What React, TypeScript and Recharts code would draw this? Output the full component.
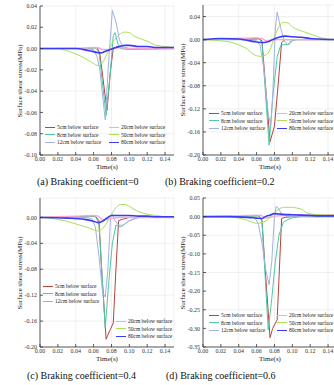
import { CartesianGrid, Line, LineChart, XAxis, YAxis } from 'recharts';

type Pt = [number, number];

const TIME_TICKS = [0, 0.02, 0.04, 0.06, 0.08, 0.1, 0.12, 0.14];
const DEPTHS = [
  '5cm below surface',
  '8cm below surface',
  '12cm below surface',
  '20cm below surface',
  '50cm below surface',
  '80cm below surface',
];
const CAPTIONS = [
  '(a) Braking coefficient=0',
  '(b) Braking coefficient=0.2',
  '(c) Braking coefficient=0.4',
  '(d) Braking coefficient=0.6',
];

const Y_TICKS_A = [-0.1, -0.08, -0.06, -0.04, -0.02, 0, 0.02, 0.04];
const Y_TICKS_B = [-0.2, -0.16, -0.12, -0.08, -0.04, 0, 0.04];
const Y_TICKS_C = [-0.2, -0.16, -0.12, -0.08, -0.04, 0];
const Y_TICKS_D = [-0.35, -0.3, -0.25, -0.2, -0.15, -0.1, -0.05, 0, 0.05];

// (a) braking coefficient 0
const a5: Pt[] = [[0, 0], [0.05, 0], [0.06, 0.001], [0.064, 0.001], [0.067, -0.005], [0.075, -0.058], [0.079, -0.02], [0.082, 0], [0.088, 0.002], [0.093, 0.001], [0.1, 0], [0.15, 0]];
const a8: Pt[] = [[0, 0], [0.05, 0], [0.062, 0.0005], [0.066, -0.003], [0.074, -0.063], [0.079, -0.02], [0.082, 0.012], [0.084, 0.015], [0.087, 0.005], [0.09, 0], [0.1, -0.001], [0.15, 0]];
const a12: Pt[] = [[0, 0], [0.05, 0], [0.06, -0.001], [0.064, -0.008], [0.067, -0.02], [0.073, -0.067], [0.077, -0.01], [0.081, 0.036], [0.085, 0.025], [0.089, 0.008], [0.094, 0], [0.1, 0], [0.15, 0]];
const a20: Pt[] = [[0, 0], [0.05, 0.0005], [0.06, 0.001], [0.065, 0.0008], [0.07, -0.001], [0.075, -0.001], [0.08, 0], [0.09, 0.001], [0.1, 0], [0.15, 0]];
const a50: Pt[] = [[0, 0], [0.02, 0], [0.03, -0.002], [0.04, -0.005], [0.05, -0.009], [0.06, -0.014], [0.065, -0.016], [0.07, -0.013], [0.075, -0.005], [0.08, 0.004], [0.085, 0.01], [0.09, 0.014], [0.095, 0.0155], [0.1, 0.015], [0.105, 0.012], [0.11, 0.01], [0.12, 0.007], [0.13, 0.003], [0.14, 0.002], [0.15, 0.001]];
const a80: Pt[] = [[0, 0], [0.04, 0], [0.055, -0.002], [0.068, -0.004], [0.075, -0.002], [0.085, 0.001], [0.095, 0.003], [0.1, 0.003], [0.11, 0.002], [0.12, 0.002], [0.13, 0.001], [0.15, 0.001]];

// (b) braking coefficient 0.2
const b5: Pt[] = [[0, 0], [0.05, 0.001], [0.062, 0.002], [0.066, -0.002], [0.069, -0.06], [0.075, -0.177], [0.08, -0.15], [0.084, -0.08], [0.088, -0.005], [0.092, 0], [0.15, 0]];
const b8: Pt[] = [[0, 0], [0.05, 0], [0.063, 0.001], [0.066, -0.005], [0.074, -0.183], [0.078, -0.1], [0.083, -0.03], [0.087, -0.01], [0.092, -0.008], [0.096, -0.009], [0.1, -0.002], [0.105, 0], [0.15, 0]];
const b12: Pt[] = [[0, 0], [0.05, 0], [0.06, -0.002], [0.064, -0.01], [0.068, -0.05], [0.073, -0.13], [0.076, -0.148], [0.078, -0.1], [0.081, 0.02], [0.083, 0.048], [0.087, 0.02], [0.091, -0.003], [0.095, -0.008], [0.1, 0], [0.15, 0]];
const b20: Pt[] = [[0, 0], [0.03, 0.002], [0.06, 0.003], [0.066, 0.002], [0.07, -0.002], [0.075, -0.002], [0.08, 0], [0.15, 0]];
const b50: Pt[] = [[0, 0], [0.02, -0.002], [0.03, -0.004], [0.04, -0.009], [0.05, -0.017], [0.055, -0.024], [0.06, -0.028], [0.065, -0.029], [0.07, -0.027], [0.075, -0.018], [0.08, 0.005], [0.085, 0.022], [0.09, 0.03], [0.095, 0.029], [0.1, 0.022], [0.11, 0.015], [0.12, 0.01], [0.13, 0.004], [0.14, 0.001], [0.15, 0]];
const b80: Pt[] = [[0, 0], [0.02, 0.002], [0.04, 0.001], [0.055, -0.003], [0.065, -0.005], [0.072, -0.004], [0.078, 0], [0.085, 0.004], [0.092, 0.006], [0.1, 0.005], [0.11, 0.004], [0.12, 0.002], [0.13, 0.001], [0.15, 0]];

// (c) braking coefficient 0.4
const c5: Pt[] = [[0, 0], [0.05, 0.001], [0.062, 0.002], [0.066, -0.005], [0.069, -0.08], [0.074, -0.188], [0.078, -0.175], [0.082, -0.163], [0.085, -0.08], [0.088, -0.005], [0.092, -0.003], [0.1, 0], [0.15, 0]];
const c8: Pt[] = [[0, 0], [0.05, 0.001], [0.062, 0.002], [0.066, -0.01], [0.073, -0.171], [0.077, -0.1], [0.081, -0.04], [0.085, -0.012], [0.09, -0.015], [0.095, -0.01], [0.1, -0.005], [0.11, 0], [0.15, 0]];
const c12: Pt[] = [[0, 0], [0.05, 0], [0.058, -0.002], [0.062, -0.015], [0.066, -0.06], [0.07, -0.115], [0.073, -0.123], [0.076, -0.08], [0.079, 0], [0.081, 0.005], [0.084, -0.005], [0.088, -0.012], [0.093, -0.012], [0.1, -0.005], [0.11, 0], [0.15, 0]];
const c20: Pt[] = [[0, 0], [0.02, 0.001], [0.04, 0.002], [0.06, 0.003], [0.065, 0.002], [0.07, -0.004], [0.075, -0.003], [0.08, -0.001], [0.09, 0], [0.15, 0]];
const c50: Pt[] = [[0, 0], [0.01, -0.001], [0.02, -0.003], [0.03, -0.006], [0.04, -0.01], [0.05, -0.014], [0.06, -0.019], [0.065, -0.021], [0.07, -0.017], [0.075, -0.008], [0.08, 0.005], [0.085, 0.015], [0.09, 0.02], [0.095, 0.02], [0.1, 0.017], [0.11, 0.009], [0.12, 0.005], [0.13, 0.003], [0.14, 0.001], [0.15, 0]];
const c80: Pt[] = [[0, 0], [0.03, -0.001], [0.05, -0.003], [0.06, -0.006], [0.065, -0.008], [0.07, -0.006], [0.075, -0.001], [0.08, 0.003], [0.09, 0.003], [0.1, 0.003], [0.11, 0.002], [0.12, 0.002], [0.13, 0.001], [0.15, 0.001]];

// (d) braking coefficient 0.6
const d5: Pt[] = [[0, 0], [0.05, 0.001], [0.062, 0.003], [0.066, -0.01], [0.069, -0.12], [0.075, -0.325], [0.078, -0.3], [0.083, -0.277], [0.088, -0.005], [0.092, -0.002], [0.1, 0], [0.15, 0]];
const d8: Pt[] = [[0, 0], [0.05, 0], [0.062, 0.002], [0.066, -0.01], [0.073, -0.304], [0.077, -0.22], [0.081, -0.12], [0.085, -0.05], [0.09, -0.015], [0.095, -0.008], [0.1, -0.003], [0.11, 0], [0.15, 0]];
const d12: Pt[] = [[0, 0], [0.05, 0], [0.058, -0.003], [0.062, -0.02], [0.066, -0.07], [0.07, -0.14], [0.074, -0.183], [0.077, -0.12], [0.08, 0], [0.082, 0.028], [0.085, 0.02], [0.088, 0.006], [0.092, 0.002], [0.1, 0], [0.15, 0]];
const d20: Pt[] = [[0, 0], [0.02, 0.001], [0.04, 0.002], [0.06, 0.004], [0.065, 0.003], [0.07, -0.004], [0.075, -0.002], [0.085, 0.002], [0.1, 0.004], [0.12, 0.005], [0.15, 0.005]];
const d50: Pt[] = [[0, 0], [0.02, 0], [0.03, -0.001], [0.04, -0.004], [0.05, -0.01], [0.055, -0.015], [0.06, -0.018], [0.065, -0.017], [0.07, -0.012], [0.075, -0.002], [0.08, 0.01], [0.085, 0.02], [0.09, 0.025], [0.1, 0.025], [0.105, 0.023], [0.11, 0.02], [0.115, 0.012], [0.12, 0.007], [0.13, 0.005], [0.14, 0.004], [0.15, 0.004]];
const d80: Pt[] = [[0, 0], [0.03, 0], [0.05, -0.002], [0.06, -0.004], [0.066, -0.005], [0.07, 0], [0.075, 0.004], [0.08, 0.008], [0.085, 0.007], [0.09, 0.006], [0.1, 0.005], [0.11, 0.004], [0.12, 0.003], [0.13, 0.002], [0.15, 0.002]];

const COLORS = ['#b5443a', '#4ec9a3', '#9fb3e3', '#f6a8d2', '#a9de5c', '#3b3bf5'];
const WIDTHS = [1, 1, 1, 1.4, 1, 1.6];
const CURVES: ('linear' | 'monotone')[] = ['linear', 'linear', 'linear', 'monotone', 'monotone', 'monotone'];

const FONT = '"Liberation Serif", "Times New Roman", serif';
const CHART_W = 176;

type LegendPos = { lx: number; ly: number; rx: number; ry: number };
type PanelSpec = {
  caption: string;
  series: Pt[][];
  yDomain: [number, number];
  yTicks: number[];
  left: number;
  top: number;
  height: number;
  plotTop: number;
  legend: LegendPos;
  capX: number;
  capY: number;
};

const PANELS: PanelSpec[] = [
  { caption: CAPTIONS[0], series: [a5, a8, a12, a20, a50, a80], yDomain: [-0.1, 0.04], yTicks: Y_TICKS_A, left: 0, top: 0, height: 172, plotTop: 6, legend: { lx: 45, ly: 127, rx: 109, ry: 127 }, capX: 37, capY: 182 },
  { caption: CAPTIONS[1], series: [b5, b8, b12, b20, b50, b80], yDomain: [-0.2, 0.06], yTicks: Y_TICKS_B, left: 163, top: 0, height: 172, plotTop: 5, legend: { lx: 209, ly: 113, rx: 277, ry: 113 }, capX: 165, capY: 182 },
  { caption: CAPTIONS[2], series: [c5, c8, c12, c20, c50, c80], yDomain: [-0.2, 0.03], yTicks: Y_TICKS_C, left: 0, top: 190, height: 174, plotTop: 8, legend: { lx: 43, ly: 286, rx: 116, ry: 321 }, capX: 27, capY: 376 },
  { caption: CAPTIONS[3], series: [d5, d8, d12, d20, d50, d80], yDomain: [-0.35, 0.05], yTicks: Y_TICKS_D, left: 163, top: 190, height: 174, plotTop: 8, legend: { lx: 209, ly: 315, rx: 277, ry: 315 }, capX: 166, capY: 376 },
];

const fmt = (v: number) => v.toFixed(2);
const tickStyle = { fill: '#333', fontSize: 6, fontFamily: FONT };
const axisStroke = { stroke: '#333', strokeWidth: 0.8 };

function LegendItem({ idx, x, y }: { idx: number; x: number; y: number }) {
  return (
    <div style={{ position: 'absolute', left: x, top: y - 4, height: 8, display: 'flex', alignItems: 'center', whiteSpace: 'nowrap' }}>
      <div style={{ width: 10, height: 0, borderTop: `${WIDTHS[idx]}px solid ${COLORS[idx]}`, marginRight: 2 }} />
      <span style={{ fontFamily: FONT, fontSize: 5.5, color: '#222', lineHeight: '8px' }}>{DEPTHS[idx]}</span>
    </div>
  );
}

function Panel({ p }: { p: PanelSpec }) {
  const plotBottom = p.top + p.height - 17;
  const yTitleY = (p.top + p.plotTop + plotBottom) / 2;
  return (
    <>
      <div style={{ position: 'absolute', left: p.left, top: p.top, width: CHART_W, height: p.height }}>
        <LineChart width={CHART_W} height={p.height} margin={{ top: p.plotTop, right: 2, bottom: 3, left: 10 }}>
          <CartesianGrid stroke="#e6e6e6" strokeWidth={0.6} />
          <XAxis
            type="number"
            dataKey="t"
            domain={[0, 0.15]}
            ticks={TIME_TICKS}
            allowDataOverflow
            height={14}
            tickFormatter={fmt}
            tick={tickStyle}
            tickSize={-3}
            tickMargin={5}
            axisLine={axisStroke}
            tickLine={axisStroke}
            label={{ value: 'Time(s)', position: 'insideBottom', offset: 0, style: { fill: '#222', fontSize: 7, fontFamily: FONT } }}
          />
          <XAxis xAxisId="top" orientation="top" type="number" domain={[0, 0.15]} ticks={TIME_TICKS} height={0} tick={false} tickSize={-3} axisLine={axisStroke} tickLine={axisStroke} />
          <YAxis
            type="number"
            domain={p.yDomain}
            ticks={p.yTicks}
            allowDataOverflow
            width={30}
            tickFormatter={fmt}
            tick={tickStyle}
            tickSize={-3}
            tickMargin={6}
            axisLine={axisStroke}
            tickLine={axisStroke}
          />
          <YAxis yAxisId="right" orientation="right" type="number" domain={p.yDomain} ticks={p.yTicks} width={0} tick={false} tickSize={-3} axisLine={axisStroke} tickLine={axisStroke} />
          {p.series.map((s, i) => (
            <Line
              key={i}
              data={s.map(([t, v]) => ({ t, v }))}
              dataKey="v"
              type={CURVES[i]}
              stroke={COLORS[i]}
              strokeWidth={WIDTHS[i]}
              dot={false}
              isAnimationActive={false}
            />
          ))}
        </LineChart>
      </div>
      <div
        style={{
          position: 'absolute',
          left: p.left + 20,
          top: yTitleY,
          transform: 'translate(-50%, -50%) rotate(-90deg)',
          whiteSpace: 'nowrap',
          fontFamily: FONT,
          fontSize: 7,
          color: '#222',
        }}
      >
        Surface shear stress(MPa)
      </div>
      {[0, 1, 2].map((i) => (
        <LegendItem key={`l${i}`} idx={i} x={p.legend.lx} y={p.legend.ly + i * 7.5} />
      ))}
      {[3, 4, 5].map((i) => (
        <LegendItem key={`r${i}`} idx={i} x={p.legend.rx} y={p.legend.ry + (i - 3) * 7.5} />
      ))}
      <div style={{ position: 'absolute', left: p.capX, top: p.capY - 7, whiteSpace: 'nowrap', fontFamily: FONT, fontSize: 10, color: '#111', lineHeight: '14px' }}>
        {p.caption}
      </div>
    </>
  );
}

export default function App() {
  return (
    <div style={{ position: 'absolute', left: 0, top: 0, width: 334, height: 385, overflow: 'hidden', background: '#fff' }}>
      {PANELS.map((p, i) => (
        <Panel key={i} p={p} />
      ))}
    </div>
  );
}
